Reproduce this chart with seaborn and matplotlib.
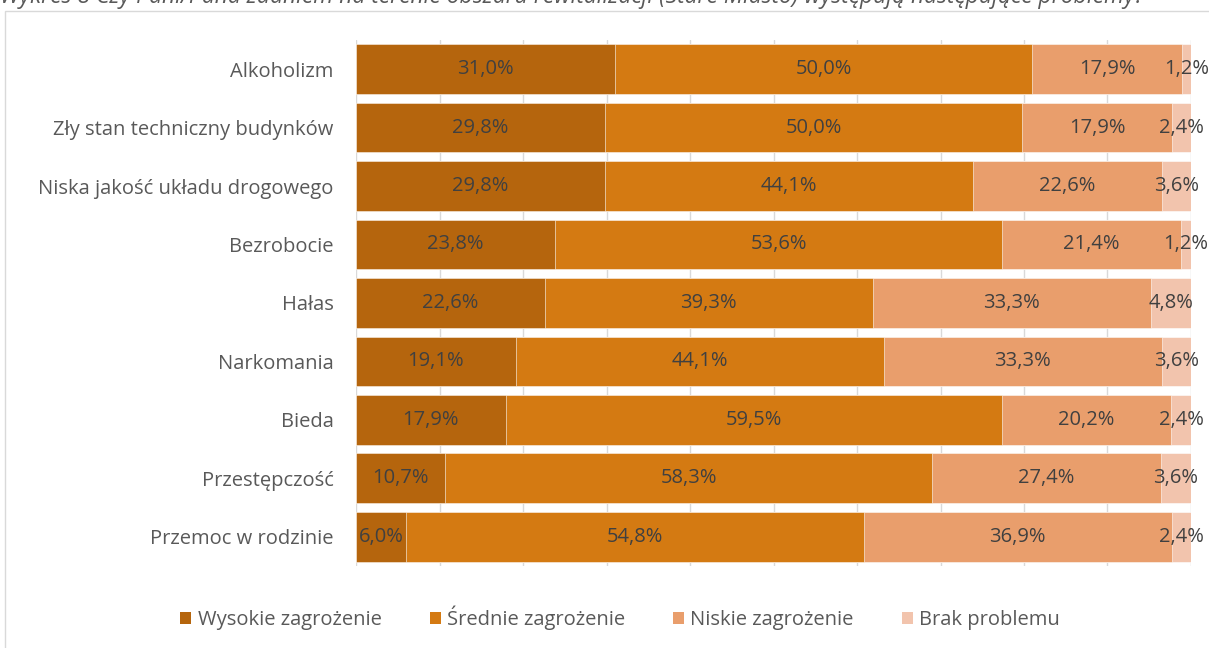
import numpy as np
import pandas as pd
import matplotlib.pyplot as plt
import seaborn as sns
from matplotlib.patches import Rectangle, Patch

categories = [
    "Alkoholizm", "Zły stan techniczny budynków", "Niska jakość układu drogowego",
    "Bezrobocie", "Hałas", "Narkomania", "Bieda", "Przestępczość", "Przemoc w rodzinie",
]
series = ["Wysokie zagrożenie", "Średnie zagrożenie", "Niskie zagrożenie", "Brak problemu"]
wysokie = [31.0, 29.8, 29.8, 23.8, 22.6, 19.1, 17.9, 10.7, 6.0]
srednie = [50.0, 50.0, 44.1, 53.6, 39.3, 44.1, 59.5, 58.3, 54.8]
niskie = [17.9, 17.9, 22.6, 21.4, 33.3, 33.3, 20.2, 27.4, 36.9]
brak = [1.2, 2.4, 3.6, 1.2, 4.8, 3.6, 2.4, 3.6, 2.4]
colors = ["#B5650D", "#D47A12", "#E99E6C", "#F2C4AD"]
title = ("Wykres 8 Czy Pani/Pana zdaniem na terenie obszaru rewitalizacji "
         "(Stare Miasto) występują następujące problemy?")

sns.set_theme(style="white")
plt.rcParams["font.family"] = ["Open Sans", "DejaVu Sans"]

df = pd.DataFrame({"kategoria": categories, series[0]: wysokie, series[1]: srednie,
                   series[2]: niskie, series[3]: brak})
vals = df[series].to_numpy()
cum = np.cumsum(vals, axis=1)

fig = plt.figure(figsize=(12.09, 6.48), dpi=100)
ax = fig.add_axes([0.2945, 0.1265, 0.6906, 0.812])

# draw stacked bars from the outermost layer inwards
for i in range(len(series) - 1, -1, -1):
    sns.barplot(x=cum[:, i], y=df["kategoria"], orient="h", color=colors[i],
                saturation=1, width=0.85, ax=ax, edgecolor="white", linewidth=0.4, zorder=2)

for r in range(len(categories)):
    for i in range(len(series)):
        left = cum[r, i] - vals[r, i]
        ax.text(left + vals[r, i] / 2, r, f"{vals[r, i]:.1f}%".replace(".", ","),
                ha="center", va="center", fontsize=14.5, color="#404040", zorder=3)

ax.set_xlim(0, 100)
ax.set_ylim(len(categories) - 0.5, -0.5)
ax.set_xticks(np.arange(0, 101, 10))
ax.xaxis.grid(True, color="#D9D9D9", linewidth=1, zorder=0)
ax.set_axisbelow(True)
ax.tick_params(axis="x", length=6, color="#D9D9D9", labelbottom=False)
ax.tick_params(axis="y", length=0, labelsize=14.5, labelcolor="#595959", pad=16)
ax.set_xlabel("")
ax.set_ylabel("")
for s in ax.spines.values():
    s.set_visible(False)

handles = [Patch(facecolor=c, edgecolor="none") for c in colors]
fig.legend(handles, series, loc="center", bbox_to_anchor=(0.513, 0.047), ncol=4,
           frameon=False, fontsize=14.5, labelcolor="#595959", handlelength=0.55,
           handleheight=0.55, handletextpad=0.3, columnspacing=2.4)

fig.patches.append(Rectangle((5 / 1209, -0.01), 1.0, 1 - 11 / 648 + 0.01,
                             transform=fig.transFigure, fill=False,
                             edgecolor="#D9D9D9", linewidth=1))
fig.text(0.0, 1.004, title, ha="left", va="center", fontsize=16.5,
         style="italic", color="#595959")

fig.savefig("out.png", dpi=100)
